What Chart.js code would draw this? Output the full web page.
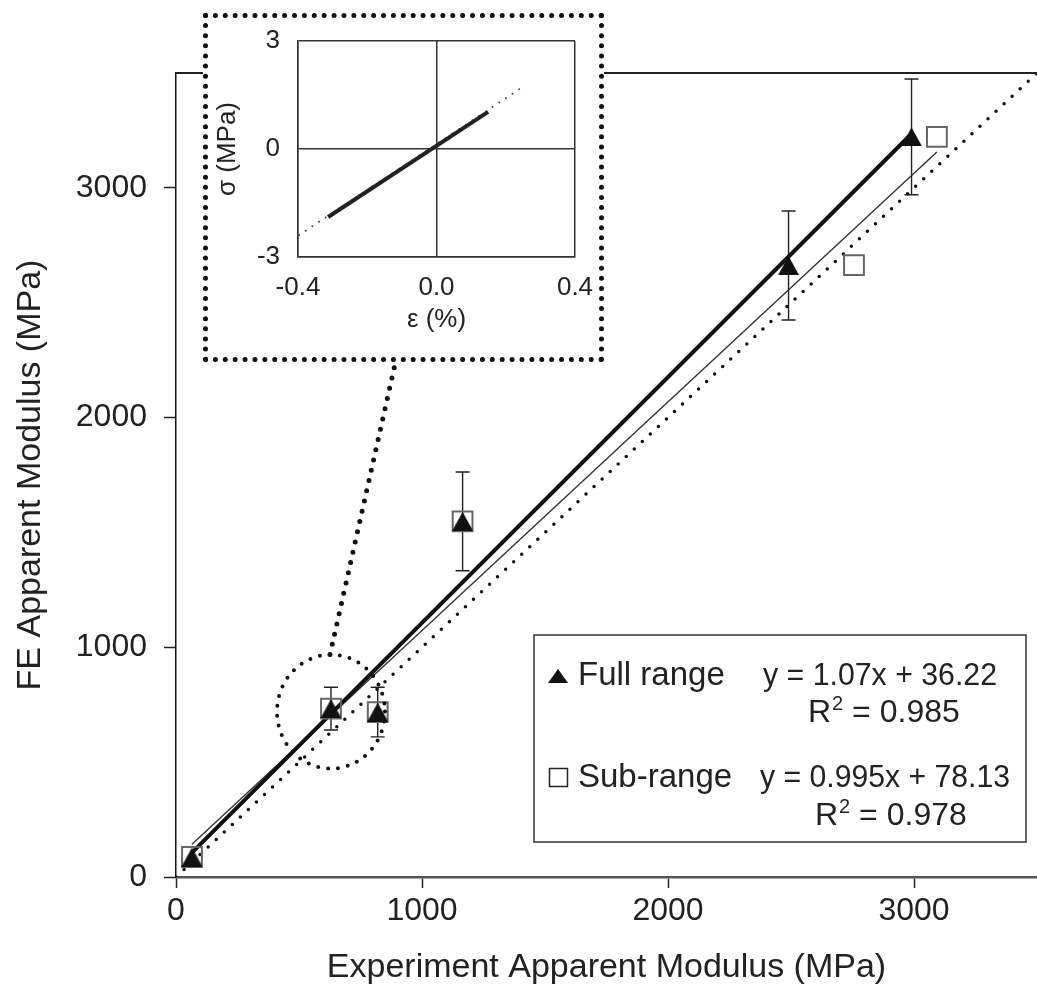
<!DOCTYPE html>
<html>
<head>
<meta charset="utf-8">
<script src="https://cdn.jsdelivr.net/npm/chart.js@4.4.0/dist/chart.umd.min.js"></script>
<style>
  html, body { margin: 0; background: #fff; overflow: hidden; }
  #wrap { position: relative; width: 1037px; height: 987px; }
  canvas { display: block; }
  #inset { position: absolute; left: 203px; top: 13px; width: 391px; height: 339px;
           border: 5px dotted #111; background: #fff; }
</style>
</head>
<body>
<div id="wrap">
  <canvas id="main" width="1037" height="987"></canvas>
  <div id="inset"><canvas id="loop" width="391" height="339"></canvas></div>
</div>
<script>
// apparent modulus (MPa): experiment on x, FE on y
const fullX = [65, 630, 820, 1165, 2490, 2990];
const fullY = [87, 733, 718, 1548, 2662, 3222];
const fullErr = [0, 93, 108, 215, 237, 252];
const subX = [65, 630, 820, 1165, 2756, 3093];
const subY = [87, 733, 718, 1548, 2664, 3222];

// linear fits: [slope, intercept]
const fullFit = [1.07, 36.22];
const subFit = [0.995, 78.13];
const fitR2 = [0.985, 0.978];
const seriesNames = ['Full range', 'Sub-range'];

const unityLine = [0, 3500];
const modulusTicks = [0, 1000, 2000, 3000];
const zoomIndex = 1; // specimen whose stress-strain curve is shown in the inset

// inset: stress (MPa) vs strain (%)
const loopStrain = [-0.313, 0.149];
const loopStress = [-1.89, 1.03];
const extStrain = [-0.397, 0.241];
const extStress = [-2.39, 1.67];
const strainTicks = [-0.4, 0, 0.4];
const stressTicks = [-3, 0, 3];

const FONT = "'Liberation Sans', Arial, Helvetica, sans-serif";
Chart.defaults.font.family = FONT;
Chart.defaults.color = '#222';

function triangleMarker(w, h) {
  const c = document.createElement('canvas');
  c.width = w; c.height = h;
  const g = c.getContext('2d');
  g.fillStyle = '#111';
  g.beginPath();
  g.moveTo(w / 2, 0); g.lineTo(w, h); g.lineTo(0, h);
  g.closePath(); g.fill();
  return c;
}

const pts = (xs, ys) => xs.map((x, i) => ({ x: x, y: ys[i] }));
const fitLine = (fit, xs) => [Math.min(...xs), Math.max(...xs)].map(x => ({ x: x, y: fit[0] * x + fit[1] }));
const eqText = fit => 'y = ' + fit[0] + 'x + ' + fit[1];

// keep the plot area exactly where the layout padding puts it
function noScalePadding(s) {
  s.paddingLeft = 0; s.paddingRight = 0; s.paddingTop = 0; s.paddingBottom = 0;
}

function drawR2(ctx, x, y, r2) {
  ctx.font = '32px ' + FONT;
  ctx.fillText('R', x, y);
  const w = ctx.measureText('R').width;
  ctx.font = '20px ' + FONT;
  ctx.fillText('2', x + w + 1, y - 12);
  const w2 = ctx.measureText('2').width;
  ctx.font = '32px ' + FONT;
  ctx.fillText(' = ' + r2.toFixed(3), x + w + w2 + 1, y);
}

const extras = {
  id: 'extras',
  beforeDatasetsDraw(chart) {
    const { ctx, scales: { x, y } } = chart;
    // error bars on the full-range points
    ctx.save();
    ctx.strokeStyle = '#222';
    ctx.lineWidth = 1.4;
    fullX.forEach((v, i) => {
      if (!fullErr[i]) return;
      const px = x.getPixelForValue(v);
      const top = y.getPixelForValue(fullY[i] + fullErr[i]);
      const bot = y.getPixelForValue(fullY[i] - fullErr[i]);
      ctx.beginPath();
      ctx.moveTo(px, top); ctx.lineTo(px, bot);
      ctx.moveTo(px - 7, top); ctx.lineTo(px + 7, top);
      ctx.moveTo(px - 7, bot); ctx.lineTo(px + 7, bot);
      ctx.stroke();
    });
    ctx.restore();
  },
  afterDatasetsDraw(chart) {
    const { ctx, chartArea, scales: { x, y } } = chart;
    ctx.save();

    // top frame line
    ctx.strokeStyle = '#222';
    ctx.lineWidth = 2;
    ctx.beginPath();
    ctx.moveTo(chartArea.left, chartArea.top);
    ctx.lineTo(chartArea.right, chartArea.top);
    ctx.stroke();

    // dotted ring around the inset specimen and the leader to the inset
    const cx = x.getPixelForValue(fullX[zoomIndex]);
    const cy = y.getPixelForValue(fullY[zoomIndex]) + 3;
    ctx.strokeStyle = '#111';
    ctx.lineCap = 'round';
    ctx.lineWidth = 4;
    ctx.setLineDash([0, 10]);
    ctx.beginPath();
    ctx.ellipse(cx, cy, 54, 57, 0, 0, Math.PI * 2);
    ctx.stroke();

    const box = document.getElementById('inset');
    ctx.lineWidth = 5;
    ctx.setLineDash([0, 10.5]);
    ctx.beginPath();
    ctx.moveTo(cx - 1, cy - 57);
    ctx.lineTo(box.offsetLeft + box.offsetWidth * 0.48, box.offsetTop + box.offsetHeight);
    ctx.stroke();
    ctx.setLineDash([]);
    ctx.lineCap = 'butt';

    // legend box
    ctx.strokeStyle = '#333';
    ctx.lineWidth = 1.5;
    ctx.fillStyle = '#fff';
    ctx.fillRect(534, 635, 492, 207);
    ctx.strokeRect(534, 635, 492, 207);

    ctx.fillStyle = '#111';
    ctx.beginPath();
    ctx.moveTo(558, 669); ctx.lineTo(568, 683); ctx.lineTo(548, 683);
    ctx.closePath(); ctx.fill();
    ctx.strokeStyle = '#222';
    ctx.lineWidth = 1.5;
    ctx.strokeRect(549.5, 768.5, 18, 18);

    ctx.fillStyle = '#222';
    ctx.textBaseline = 'alphabetic';
    ctx.textAlign = 'left';
    ctx.font = '33px ' + FONT;
    ctx.fillText(seriesNames[0], 578, 685);
    ctx.fillText(seriesNames[1], 578, 787);
    ctx.font = '32px ' + FONT;
    ctx.fillText(eqText(fullFit), 763, 685, 234);
    ctx.fillText(eqText(subFit), 760, 787, 250);
    drawR2(ctx, 808, 722, fitR2[0]);
    drawR2(ctx, 815, 825, fitR2[1]);

    ctx.restore();
  }
};

new Chart(document.getElementById('main'), {
  type: 'scatter',
  data: {
    datasets: [
      { data: pts(fullX, fullY), pointStyle: triangleMarker(21, 19), pointRadius: 10, order: 0 },
      { data: pts(subX, subY), pointStyle: 'rect', pointRadius: 14, borderColor: '#666',
        borderWidth: 2, backgroundColor: 'rgba(0,0,0,0)', order: 1 },
      { data: fitLine(fullFit, fullX), showLine: true, borderColor: '#111', borderWidth: 4,
        pointRadius: 0, order: 2 },
      { data: fitLine(subFit, subX), showLine: true, borderColor: '#333', borderWidth: 1.4,
        pointRadius: 0, order: 3 },
      { data: unityLine.map(v => ({ x: v, y: v })), showLine: true, borderColor: '#111',
        borderWidth: 3.5, borderDash: [0, 11], borderCapStyle: 'round', pointRadius: 0, order: 4 }
    ]
  },
  options: {
    responsive: false,
    animation: false,
    events: [],
    layout: { autoPadding: false, padding: { top: 73, right: 0, left: 0, bottom: 0 } },
    plugins: { legend: { display: false }, tooltip: { enabled: false } },
    scales: {
      x: {
        min: 0, max: 3500,
        afterBuildTicks: s => { s.ticks = modulusTicks.map(v => ({ value: v })); },
        afterFit: s => { s.height = 110; noScalePadding(s); },
        grid: { drawOnChartArea: false, drawTicks: true, tickLength: 11, tickColor: '#222', tickWidth: 1.5 },
        border: { color: '#555', width: 2.5 },
        ticks: { padding: 4, color: '#222', font: { size: 32 }, maxRotation: 0, callback: v => String(v) },
        title: { display: true, text: 'Experiment Apparent Modulus (MPa)', color: '#222',
                 font: { size: 34, lineHeight: 1 }, padding: { top: 0, bottom: 2 } }
      },
      y: {
        min: 0, max: 3500,
        afterBuildTicks: s => { s.ticks = modulusTicks.map(v => ({ value: v })); },
        afterFit: s => { s.width = 176; noScalePadding(s); },
        grid: { drawOnChartArea: false, drawTicks: true, tickLength: 12, tickColor: '#222', tickWidth: 1.5 },
        border: { color: '#111', width: 1.5 },
        ticks: { padding: 17, color: '#222', font: { size: 32 }, callback: v => String(v) },
        title: { display: true, text: 'FE Apparent Modulus (MPa)', color: '#222',
                 font: { size: 34, lineHeight: 1 }, padding: { top: 14, bottom: 0 } }
      }
    }
  },
  plugins: [extras]
});

// inset: stress-strain response of the highlighted specimen
new Chart(document.getElementById('loop'), {
  type: 'scatter',
  data: {
    datasets: [
      { data: pts(loopStrain, loopStress), showLine: true, borderColor: '#222', borderWidth: 4, pointRadius: 0 },
      { data: pts(extStrain, extStress), showLine: true, borderColor: '#444', borderWidth: 2,
        borderDash: [0, 8], borderCapStyle: 'round', pointRadius: 0 }
    ]
  },
  options: {
    responsive: false,
    animation: false,
    events: [],
    layout: { autoPadding: false, padding: { top: 23, right: 24, left: 0, bottom: 0 } },
    plugins: { legend: { display: false }, tooltip: { enabled: false } },
    scales: {
      x: {
        min: -0.4, max: 0.4,
        afterBuildTicks: s => { s.ticks = strainTicks.map(v => ({ value: v })); },
        afterFit: s => { s.height = 100; noScalePadding(s); },
        grid: { color: '#333', lineWidth: 1.5, drawTicks: false },
        border: { color: '#333', width: 1.5 },
        ticks: { padding: 15, color: '#222', font: { size: 26 }, maxRotation: 0, callback: v => v.toFixed(1) },
        title: { display: true, text: 'ε (%)', color: '#222', font: { size: 26, lineHeight: 1 },
                 padding: { top: 0, bottom: 24 } }
      },
      y: {
        min: -3, max: 3,
        afterBuildTicks: s => { s.ticks = stressTicks.map(v => ({ value: v })); },
        afterFit: s => { s.width = 90; noScalePadding(s); },
        grid: { color: '#333', lineWidth: 1.5, drawTicks: false },
        border: { color: '#333', width: 1.5 },
        ticks: { padding: 18, color: '#222', font: { size: 26 }, callback: v => String(v) },
        title: { display: true, text: 'σ (MPa)', color: '#222', font: { size: 26, lineHeight: 1 },
                 padding: { top: 7, bottom: 0 } }
      }
    }
  }
});
</script>
</body>
</html>
